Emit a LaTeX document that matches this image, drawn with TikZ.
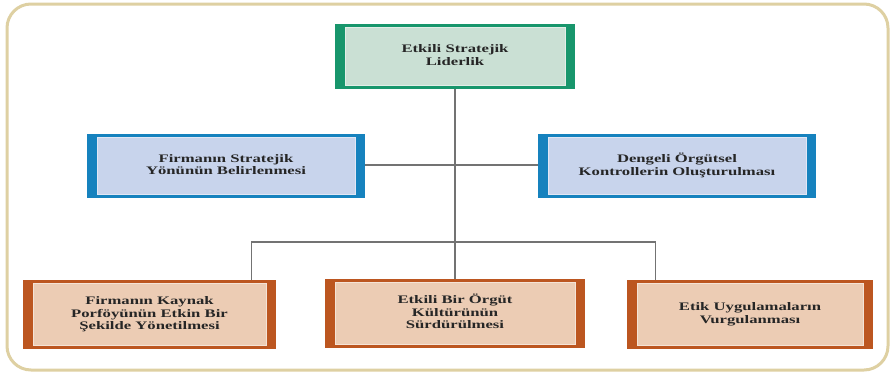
\documentclass[tikz,border=0pt]{standalone}
\usepackage{fontspec}
\usepackage{graphicx}
\setmainfont{Liberation Serif}
\definecolor{frameC}{RGB}{222,208,162}
\definecolor{greenB}{RGB}{24,150,108}
\definecolor{greenF}{RGB}{202,224,212}
\definecolor{blueB}{RGB}{22,130,190}
\definecolor{blueF}{RGB}{200,212,236}
\definecolor{orangeB}{RGB}{188,86,32}
\definecolor{orangeF}{RGB}{236,204,180}
\definecolor{linkC}{RGB}{115,115,115}
% wide bold label, several lines centred
\newcommand\boxlabel[1]{\scalebox{1.45}[1]{\begin{tabular}{@{}c@{}}#1\end{tabular}}}
\tikzset{
  panel/.style n args={4}{
    fill=#1, inner sep=0pt, minimum width=#3, minimum height=#4,
    font=\fontsize{11.5}{12.5}\selectfont\bfseries, text=black!85,
    path picture={
      \fill[#2, draw=#2!55!white, line width=0.8pt]
        ([xshift=10pt,yshift=3.5pt]path picture bounding box.south west)
        rectangle ([xshift=-10pt,yshift=-3.5pt]path picture bounding box.north east);
    }},
  link/.style={draw=linkC, line width=1.1pt}
}
\begin{document}
\begin{tikzpicture}[x=1pt,y=-1pt]
  \useasboundingbox (0,0) rectangle (893,375);
  \draw[frameC, line width=3pt, rounded corners=24pt] (7,4) rectangle (888,370);

  \node[panel={greenB}{greenF}{240pt}{65pt}] (top) at (455,56.5)
    {\boxlabel{Etkili Stratejik\\Liderlik}};
  \node[panel={blueB}{blueF}{278pt}{64pt}] (ml) at (226,166)
    {\boxlabel{Firmanın Stratejik\\Yönünün Belirlenmesi}};
  \node[panel={blueB}{blueF}{278pt}{64pt}] (mr) at (677,166)
    {\boxlabel{Dengeli Örgütsel\\Kontrollerin Oluşturulması}};
  \node[panel={orangeB}{orangeF}{253pt}{69pt}] (bl) at (149.5,314.5)
    {\boxlabel{Firmanın Kaynak\\Porföyünün Etkin Bir\\Şekilde Yönetilmesi}};
  \node[panel={orangeB}{orangeF}{260pt}{69pt}] (bm) at (455,313.5)
    {\boxlabel{Etkili Bir Örgüt\\Kültürünün\\Sürdürülmesi}};
  \node[panel={orangeB}{orangeF}{246pt}{69pt}] (br) at (750,314.5)
    {\boxlabel{Etik Uygulamaların\\Vurgulanması}};

  \coordinate (split) at (455,242);
  \coordinate (cross) at (455,165);
  \draw[link] (top.south) -- (bm.north);
  \draw[link] (ml.east |- cross) -- (mr.west |- cross);
  \draw[link] ([xshift=-25pt]bl.north east) |- (split) -| ([xshift=29pt]br.north west);
\end{tikzpicture}
\end{document}
